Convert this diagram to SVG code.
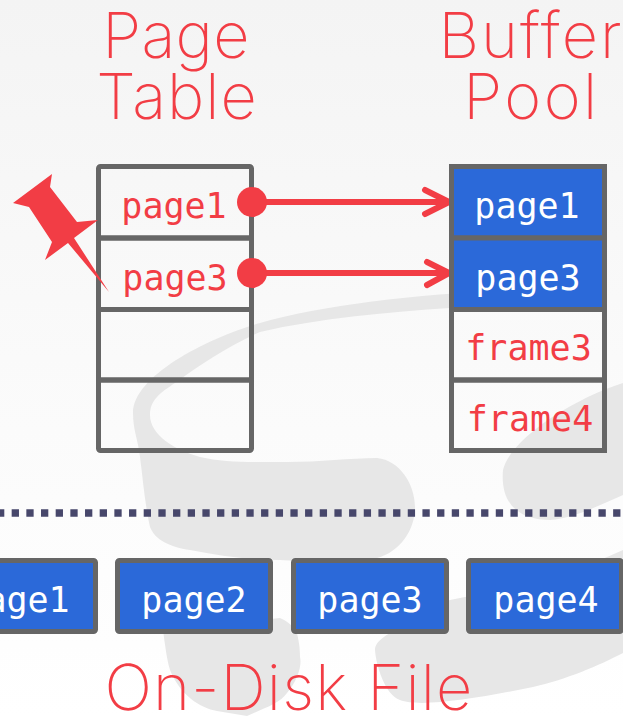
<svg xmlns="http://www.w3.org/2000/svg" width="623" height="716" viewBox="0 0 623 716">
<style>
.title{font-family:Inter,"Noto Sans",sans-serif;font-weight:200;font-size:63px;fill:#f23d45;text-anchor:middle}
.mono{font-family:"DejaVu Sans Mono","Liberation Mono",monospace;font-size:35px;text-anchor:middle}
.red{fill:#f23d45}.white{fill:#fff}
.cell{fill:none;stroke:#666;stroke-width:5}
.blue{fill:#2b69d9;stroke:#666;stroke-width:5}
.conn{fill:none;stroke:#f23d45;stroke-width:6;stroke-linecap:round;stroke-linejoin:round}
</style>
<defs><linearGradient id="bg" x1="0" y1="0" x2="0" y2="1"><stop offset="0" stop-color="#f4f4f4"/><stop offset="0.500" stop-color="#fafafa"/><stop offset="1" stop-color="#ffffff"/></linearGradient></defs>
<rect width="623" height="716" fill="url(#bg)"/>
<g id="watermark" fill="#e7e7e7">
<path d="M600 288C480 288 340 300 260 323C210 337 133 375 133 413C133 430 138 440 140 457C143 480 145 505 150 527C155 540 170 547 190 550C220 556 250 560 280 560C310 562 345 562 377 558C400 552 415 530 415 507C415 485 400 460 377 458C350 458 320 462 287 462C255 462 225 463 200 457C175 450 150 435 150 415C150 400 160 393 175 383C200 365 230 345 260 332C320 318 390 312 450 308L600 298Z"/>
<path d="M623 383C570 400 510 440 503 470C500 505 520 520 550 520C575 518 600 505 623 495Z"/>
<path d="M163 630C165 645 167 660 170 670C180 695 200 708 217 711L247 716C265 708 280 703 287 693C298 680 302 665 300 657C300 645 298 638 297 633C293 625 285 620 280 618Z"/>
<path d="M623 550C570 575 510 588 450 600C420 610 400 625 390 633C378 640 375 645 375 650C376 665 385 695 400 700C420 708 480 698 533 687C565 680 600 665 623 653Z"/>
</g>
<g id="connectors">
<path class="conn" d="M252 202H449M425 190L449 202L425 214"/>
<path class="conn" d="M252 273H449M427 262L449 273L427 285"/>
</g>
<g id="title-page-table"><text class="title" x="176" y="58" style="letter-spacing:.3px">Page</text><text class="title" x="177" y="119" style="letter-spacing:1px">Table</text></g>
<g id="title-buffer-pool"><text class="title" x="531" y="58" style="letter-spacing:2px">Buffer</text><text class="title" x="531.500" y="119" style="letter-spacing:2.500px">Pool</text></g>
<g id="page-table">
<rect class="cell" x="98.500" y="166.500" width="153" height="71.500" rx="2"/>
<rect class="cell" x="98.500" y="238" width="153" height="71.500"/>
<rect class="cell" x="98.500" y="309.500" width="153" height="70.500"/>
<rect class="cell" x="98.500" y="380" width="153" height="70.500" rx="2"/>
<text class="mono red" x="174" y="218">page1</text>
<text class="mono red" x="175" y="290">page3</text>
<circle class="red" cx="252" cy="202" r="15"/>
<circle class="red" cx="252" cy="273" r="15"/>
</g>
<g id="buffer-pool">
<rect class="blue" x="451.500" y="166.500" width="153" height="71.500"/>
<rect class="blue" x="451.500" y="238" width="153" height="71.500"/>
<rect class="cell" x="451.500" y="309.500" width="153" height="70.500"/>
<rect class="cell" x="451.500" y="380" width="153" height="70.500"/>
<text class="mono white" x="527" y="218">page1</text>
<text class="mono white" x="528" y="290">page3</text>
<text class="mono red" x="528.500" y="360">frame3</text>
<text class="mono red" x="530" y="431">frame4</text>
</g>
<path id="pin" class="red" d="M13 203L52 174L50 187L77 222L98 220L74 238L109 292L68 243L45 260L52 242L29 207Z"/>
<path id="divider" d="M-3 513H623" fill="none" stroke="#47476b" stroke-width="7.300" stroke-dasharray="7.300 7.370"/>
<g id="disk-pages">
<g id="disk-page1"><rect class="blue" x="-60" y="560.500" width="155.500" height="71" rx="2"/><text class="mono white" x="17" y="612">page1</text></g>
<g id="disk-page2"><rect class="blue" x="117.500" y="560.500" width="153" height="71" rx="2"/><text class="mono white" x="194" y="612">page2</text></g>
<g id="disk-page3"><rect class="blue" x="293.500" y="560.500" width="153" height="71" rx="2"/><text class="mono white" x="370" y="612">page3</text></g>
<g id="disk-page4"><rect class="blue" x="468.500" y="560.500" width="153" height="71" rx="2"/><text class="mono white" x="546" y="612">page4</text></g>
</g>
<text id="title-disk" class="title" x="289" y="710" style="letter-spacing:1.200px">On-Disk File</text>
</svg>
